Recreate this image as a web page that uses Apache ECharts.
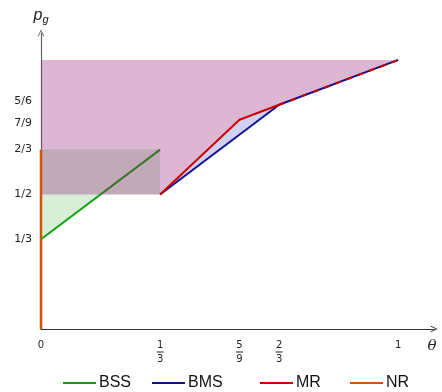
<!DOCTYPE html>
<html>
<head>
<meta charset="utf-8">
<script src="https://cdn.jsdelivr.net/npm/echarts@6/dist/echarts.min.js"></script>
<style>
html,body{margin:0;padding:0;background:#fff;}
#main{width:442px;height:392px;}
</style>
</head>
<body>
<div id="main"></div>
<script>
// tick positions and labels
var xTickValues = [0, 1/3, 5/9, 2/3, 1];
var xTickLabels = ['0', '1/3', '5/9', '2/3', '1'];
var yTickValues = [1/3, 1/2, 2/3, 7/9, 5/6];
var yTickLabels = ['1/3', '1/2', '2/3', '7/9', '5/6'];

// curves [theta, p_g]
var bssData = [[0, 1/3], [1/3, 2/3]];
var bmsData = [[1/3, 1/2], [2/3, 5/6], [1, 1]];
var mrData = [[1/3, 1/2], [5/9, 7/9], [2/3, 5/6]];
var mrDashData = [[2/3, 5/6], [1, 1]];
var nrData = [[0, 0], [0, 2/3]];

// shaded regions
var greenRegion = [[0, 1/3], [1/6, 1/2], [1/3, 1/2], [1/3, 2/3], [0, 2/3]];
var pinkRegion = [[0, 1/2], [0, 1], [1, 1], [2/3, 5/6], [5/9, 7/9], [1/3, 1/2]];
var blueRegion = [[1/3, 1/2], [5/9, 7/9], [2/3, 5/6]];

function findLabel(vals, labels, v) {
	for (var i = 0; i < vals.length; i++) {
		if (Math.abs(vals[i] - v) < 1e-6) return labels[i];
	}
	return '';
}

function regionSeries(pts, color, z) {
	return {
		type : 'custom',
		silent : true,
		z : z,
		clip : false,
		data : [[0, 0]],
		renderItem : function(params, api) {
			var p = [];
			for (var i = 0; i < pts.length; i++) p.push(api.coord(pts[i]));
			return {
				type : 'polygon',
				shape : { points : p },
				style : { fill : color }
			};
		}
	};
}

function lineSeries(name, data, color, width, z, type) {
	return {
		name : name,
		type : 'line',
		data : data,
		symbol : 'none',
		z : z,
		clip : false,
		lineStyle : { color : color, width : width, type : type || 'solid' },
		itemStyle : { color : color }
	};
}

// open arrow head for the axes
var chevron = 'path://M0,10 L5,0 L10,10 L8.6,10 L5,2.6 L1.4,10 Z';

var option = {
	animation : false,
	grid : { left : 41, right : 8, top : 33, bottom : 63 },
	xAxis : {
		type : 'value',
		min : 0,
		max : 1.1,
		splitLine : { show : false },
		axisTick : { show : false },
		axisLine : {
			lineStyle : { color : '#333', width : 1.2 },
			symbol : ['none', chevron],
			symbolSize : [10, 7]
		},
		name : 'θ',
		nameLocation : 'end',
		nameGap : -2,
		nameTextStyle : {
			fontFamily : 'DejaVu Serif',
			fontStyle : 'italic',
			fontSize : 15,
			color : '#222',
			align : 'center',
			verticalAlign : 'top',
			padding : [10, 0, 0, 0]
		},
		axisLabel : {
			customValues : xTickValues,
			margin : 10,
			color : '#222',
			formatter : function(v) {
				var s = findLabel(xTickValues, xTickLabels, v);
				if (s.indexOf('/') >= 0) {
					var a = s.split('/');
					return '{n|' + a[0] + '}\n{b| }\n{d|' + a[1] + '}';
				}
				return '{n|' + s + '}\n{e| }\n{d| }';
			},
			rich : {
				n : { fontFamily : 'DejaVu Sans', fontSize : 10, lineHeight : 12, align : 'center' },
				d : { fontFamily : 'DejaVu Sans', fontSize : 10, lineHeight : 12, align : 'center' },
				b : { width : 7, height : 1, lineHeight : 2, fontSize : 1, backgroundColor : '#222', align : 'center' },
				e : { width : 7, height : 1, lineHeight : 2, fontSize : 1, align : 'center' }
			}
		}
	},
	yAxis : {
		type : 'value',
		min : 0,
		max : 1.1,
		splitLine : { show : false },
		axisTick : { show : false },
		axisLine : {
			lineStyle : { color : '#666', width : 1.2 },
			symbol : ['none', chevron],
			symbolSize : [10, 7]
		},
		name : '{p|p}{g|g}',
		nameLocation : 'end',
		nameGap : 8,
		nameTextStyle : {
			rich : {
				p : { fontFamily : 'Liberation Sans', fontStyle : 'italic', fontSize : 16, color : '#222' },
				g : { fontFamily : 'Liberation Sans', fontStyle : 'italic', fontSize : 11, color : '#222', padding : [8, 0, 0, 0] }
			}
		},
		axisLabel : {
			customValues : yTickValues,
			margin : 9,
			color : '#222',
			formatter : function(v) {
				var s = findLabel(yTickValues, yTickLabels, v);
				if (s == '5/6') return '{up|' + s + '}';
				if (s == '7/9') return '{dn|' + s + '}';
				return '{t|' + s + '}';
			},
			rich : {
				t : { fontFamily : 'DejaVu Sans', fontSize : 11 },
				up : { fontFamily : 'DejaVu Sans', fontSize : 11, padding : [0, 0, 8, 0] },
				dn : { fontFamily : 'DejaVu Sans', fontSize : 11, padding : [6, 0, 0, 0] }
			}
		}
	},
	legend : [
		{ data : ['BSS'], left : 58, top : 370 },
		{ data : ['BMS'], left : 147, top : 370 },
		{ data : ['MR'], left : 255, top : 370 },
		{ data : ['NR'], left : 345, top : 370 }
	].map(function(l) {
		l.icon = 'rect';
		l.itemWidth = 33;
		l.itemHeight = 2;
		l.selectedMode = false;
		l.textStyle = { fontFamily : 'Liberation Sans', fontSize : 16, color : '#111', padding : [0, 0, 0, -2] };
		return l;
	}),
	series : [
		regionSeries(greenRegion, '#d8eed8', 1),
		regionSeries(blueRegion, '#d0d0f0', 2),
		lineSeries('BSS', bssData, '#14a014', 2, 2),
		regionSeries(pinkRegion, 'rgba(142,19,110,0.31)', 3),
		lineSeries('BMS', bmsData, '#11118c', 2, 4),
		lineSeries('MR', mrData, '#cc0000', 2, 5),
		lineSeries('MR', mrDashData, '#cc0000', 2, 5, [6, 6]),
		lineSeries('NR', nrData, '#d35400', 2.5, 6)
	]
};

var myChart = echarts.init(document.getElementById('main'));
myChart.setOption(option, true);
</script>
</body>
</html>
